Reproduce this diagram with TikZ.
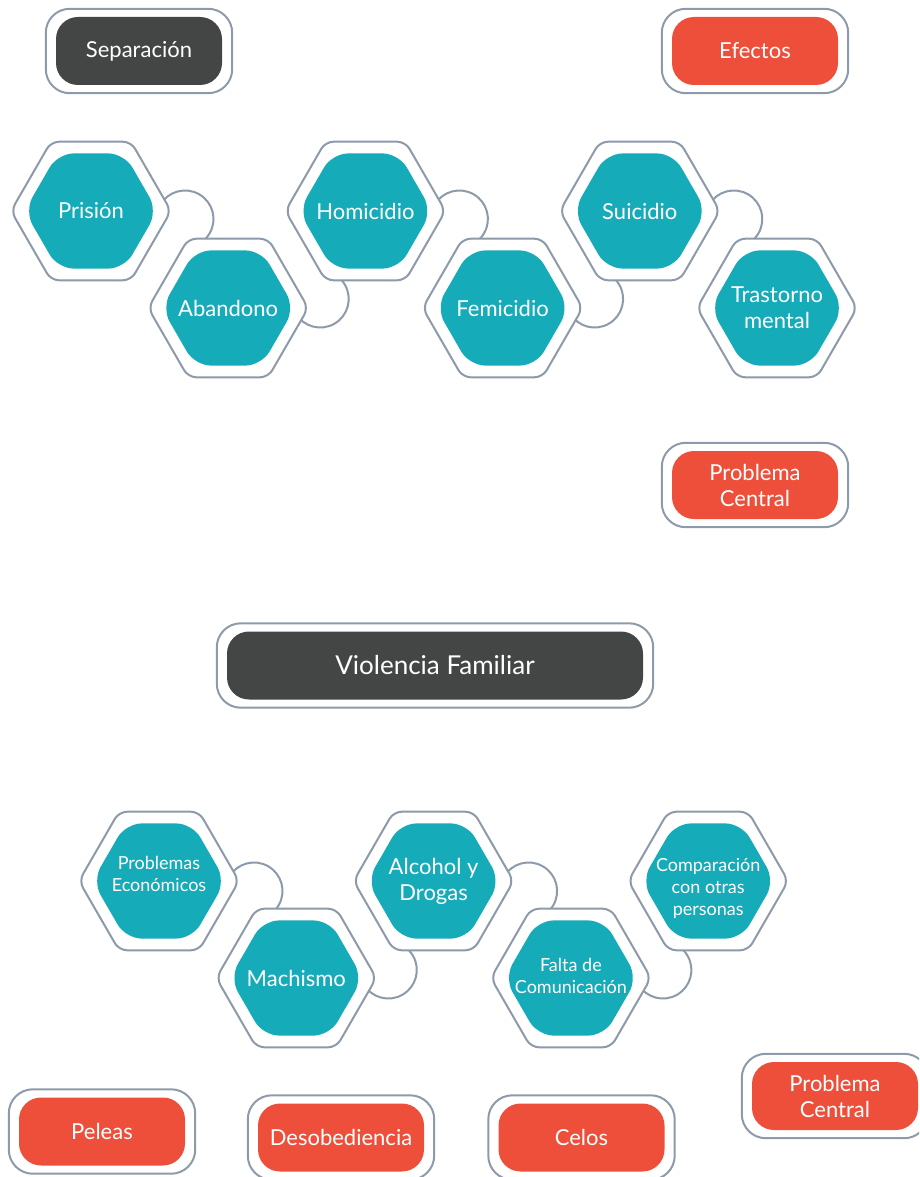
\documentclass[tikz,border=0pt]{standalone}
\usepackage{fontspec}
\setmainfont{Lato}
\usetikzlibrary{shapes.geometric, positioning, backgrounds, fit}

\definecolor{hexteal}{HTML}{16ABB9}
\definecolor{boxred}{HTML}{EE4F3A}
\definecolor{boxdark}{HTML}{444646}
\definecolor{rim}{HTML}{8D9AA9}

\tikzset{
  hexout/.style={regular polygon, regular polygon sides=6, minimum size=160pt,
    inner sep=0pt, draw=rim, line width=2pt, fill=white, rounded corners=8pt},
  hexcore/.style={regular polygon, regular polygon sides=6, minimum size=133pt,
    inner sep=0pt, fill=hexteal, rounded corners=16pt},
  hexin/.style={hexcore, label={[hextext]center:{#1}}},
  hexsmall/.style 2 args={hexcore, label={[smalltext, yshift=#2]center:{#1}}},
  hextext/.style={text=white, align=center, font=\fontsize{22}{26}\selectfont},
  smalltext/.style={hextext, font=\fontsize{18}{22}\selectfont},
  link/.style={draw=rim, line width=2pt},
  tag/.style={rounded corners=22pt, minimum width=166pt, minimum height=68pt,
    text=white, align=center, font=\fontsize{22}{26}\selectfont},
  redtag/.style={tag, fill=boxred},
  darktag/.style={tag, fill=boxdark},
  rimbox/.style={draw=rim, line width=2pt, rounded corners=24pt,
    inner xsep=10pt, inner ysep=8pt}
}

\begin{document}
\begin{tikzpicture}[x=1pt, y=-1pt, on grid]
  \clip (0,0) rectangle (919,1177);
  \useasboundingbox (0,0) rectangle (919,1177);

  % labels
  \node[darktag] (sep) at (139,51) {Separación};
  \node[rimbox, fit=(sep)] (sep-rim) {};
  \node[redtag] (efectos) at (755,51) {Efectos};
  \node[rimbox, fit=(efectos)] (efectos-rim) {};
  \node[redtag] (central1) at (755,485) {Problema\\Central};
  \node[rimbox, fit=(central1)] (central1-rim) {};
  \node[darktag, minimum width=416pt, font=\fontsize{26}{30}\selectfont] (violencia) at (435,665.5) {Violencia Familiar};
  \node[rimbox, fit=(violencia)] (violencia-rim) {};

  % effects
  \node[hexout] (prision) at (91,211) {};
  \node[hexout] (abandono) [below right=97pt and 137.2pt of prision] {};
  \node[hexout] (homicidio) [above right=97pt and 137.2pt of abandono] {};
  \node[hexout] (femicidio) [below right=97pt and 137.2pt of homicidio] {};
  \node[hexout] (suicidio) [above right=97pt and 137.2pt of femicidio] {};
  \node[hexout] (trastorno) [below right=97pt and 137.2pt of suicidio] {};
  \node[hexin=Prisión] (prision-in) at (prision) {};
  \node[hexin=Abandono] (abandono-in) at (abandono) {};
  \node[hexin=Homicidio] (homicidio-in) at (homicidio) {};
  \node[hexin=Femicidio] (femicidio-in) at (femicidio) {};
  \node[hexin=Suicidio] (suicidio-in) at (suicidio) {};
  \node[hexin=Trastorno\\mental] (trastorno-in) at (trastorno) {};

  % causes
  \node[hexout] (economia) at (159,881) {};
  \node[hexout] (machismo) [below right=97pt and 137.3pt of economia] {};
  \node[hexout] (alcohol) [above right=97pt and 137.3pt of machismo] {};
  \node[hexout] (comunicacion) [below right=97pt and 137.3pt of alcohol] {};
  \node[hexout] (comparacion) [above right=97pt and 137.3pt of comunicacion] {};
  \node[hexsmall={Problemas\\Económicos}{7pt}] (economia-in) at (economia) {};
  \node[hexin=Machismo] (machismo-in) at (machismo) {};
  \node[hexin=Alcohol y\\Drogas] (alcohol-in) at (alcohol) {};
  \node[hexsmall={Falta de\\Comunicación}{2pt}] (comunicacion-in) at (comunicacion) {};
  \node[hexsmall={Comparación\\con otras\\personas}{-7pt}] (comparacion-in) at (comparacion) {};

  % links between the cells, half hidden behind them
  \begin{scope}[on background layer]
    \draw[link] ([shift={(94,8)}]prision.center) ++(-150:28.5) arc[start angle=-150, delta angle=210, radius=28.5];
    \draw[link] ([shift={(92,-9)}]abandono.center) ++(150:28.5) arc[start angle=150, delta angle=-210, radius=28.5];
    \draw[link] ([shift={(94,8)}]homicidio.center) ++(-150:28.5) arc[start angle=-150, delta angle=210, radius=28.5];
    \draw[link] ([shift={(92,-9)}]femicidio.center) ++(150:28.5) arc[start angle=150, delta angle=-210, radius=28.5];
    \draw[link] ([shift={(94,8)}]suicidio.center) ++(-150:28.5) arc[start angle=-150, delta angle=210, radius=28.5];
    \draw[link] ([shift={(95,10)}]economia.center) ++(-150:28.5) arc[start angle=-150, delta angle=210, radius=28.5];
    \draw[link] ([shift={(92,-8)}]machismo.center) ++(150:28.5) arc[start angle=150, delta angle=-210, radius=28.5];
    \draw[link] ([shift={(95,10)}]alcohol.center) ++(-150:28.5) arc[start angle=-150, delta angle=210, radius=28.5];
    \draw[link] ([shift={(92,-8)}]comunicacion.center) ++(150:28.5) arc[start angle=150, delta angle=-210, radius=28.5];
  \end{scope}

  \node[redtag] (peleas) at (102,1131.5) {Peleas};
  \node[rimbox, fit=(peleas)] (peleas-rim) {};
  \node[redtag] (desobediencia) at (341,1137.5) {Desobediencia};
  \node[rimbox, fit=(desobediencia)] (desobediencia-rim) {};
  \node[redtag] (celos) at (581.5,1137.5) {Celos};
  \node[rimbox, fit=(celos)] (celos-rim) {};
  \node[redtag] (central2) at (835,1096) {Problema\\Central};
  \node[rimbox, fit=(central2)] (central2-rim) {};
\end{tikzpicture}
\end{document}
